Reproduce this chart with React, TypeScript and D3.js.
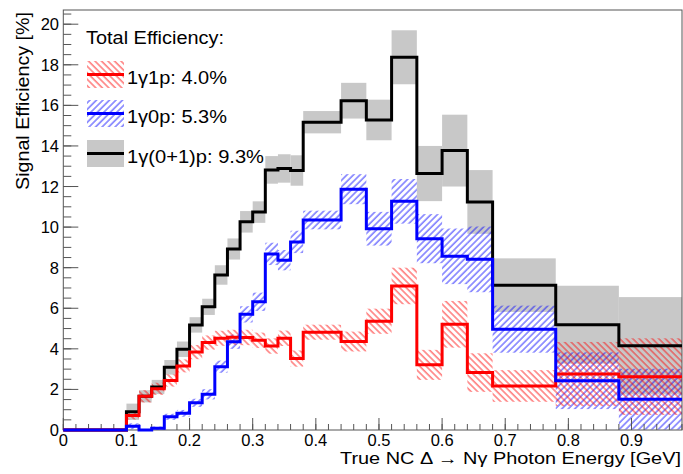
import React from "react";
import * as d3 from "d3";

// ---- data ----
const binEdges = [0, 0.02, 0.04, 0.06, 0.08, 0.1, 0.12, 0.14, 0.16, 0.18, 0.2, 0.22, 0.24, 0.26, 0.28, 0.3, 0.32, 0.34, 0.36, 0.38, 0.44, 0.48, 0.52, 0.56, 0.6, 0.64, 0.68, 0.78, 0.88, 0.98];

const totalEff = [0, 0, 0, 0, 0, 0.9, 1.66, 2.12, 3.09, 3.98, 5.18, 6.07, 7.64, 8.92, 10.26, 10.74, 12.82, 12.89, 12.79, 15.17, 16.23, 15.28, 18.37, 12.64, 13.77, 11.24, 7.14, 5.19, 4.15];
const totalErr = [0, 0, 0, 0, 0, 0.4, 0.3, 0.35, 0.36, 0.38, 0.38, 0.4, 0.48, 0.52, 0.53, 0.53, 0.68, 0.7, 0.75, 0.55, 0.88, 1.0, 1.33, 1.36, 1.77, 1.57, 1.32, 1.92, 2.4];

const oneP = [0, 0, 0, 0, 0, 0.72, 1.66, 2.03, 2.44, 3.16, 3.84, 4.31, 4.52, 4.57, 4.56, 4.42, 4.14, 4.52, 3.52, 4.82, 4.36, 5.36, 7.1, 3.21, 5.21, 2.83, 2.17, 2.76, 2.63];
const onePErr = [0, 0, 0, 0, 0, 0.2, 0.3, 0.3, 0.3, 0.32, 0.35, 0.35, 0.37, 0.37, 0.38, 0.38, 0.38, 0.38, 0.4, 0.37, 0.49, 0.62, 0.9, 0.74, 1.15, 0.95, 0.78, 1.58, 1.89];

const zeroP = [0, 0, 0, 0, 0, 0.18, 0, 0.09, 0.65, 0.82, 1.34, 1.76, 3.12, 4.35, 5.7, 6.32, 8.68, 8.37, 9.27, 10.35, 11.87, 9.92, 11.27, 9.43, 8.56, 8.41, 4.97, 2.43, 1.52];
const zeroPErr = [0, 0, 0, 0, 0, 0.15, 0.05, 0.08, 0.15, 0.17, 0.2, 0.25, 0.3, 0.35, 0.4, 0.45, 0.55, 0.5, 0.55, 0.46, 0.74, 0.83, 1.1, 1.21, 1.37, 1.62, 1.16, 1.4, 1.5];

const xMajorTicks = [0, 0.1, 0.2, 0.3, 0.4, 0.5, 0.6, 0.7, 0.8, 0.9];
const xTickLabels = ["0", "0.1", "0.2", "0.3", "0.4", "0.5", "0.6", "0.7", "0.8", "0.9"];
const yMajorTicks = [0, 2, 4, 6, 8, 10, 12, 14, 16, 18, 20];
const yTickLabels = ["0", "2", "4", "6", "8", "10", "12", "14", "16", "18", "20"];

const legendTitle = "Total Efficiency:";
const legendLabels = ["1γ1p: 4.0%", "1γ0p: 5.3%", "1γ(0+1)p: 9.3%"];
const xTitle = "True NC Δ → Nγ Photon Energy [GeV]";
const yTitle = "Signal Efficiency [%]";

// ---- layout ----
const W = 683;
const H = 474;
const L = 63.3;
const R = 682;
const T = 10;
const B = 430;
const FONT = "'Liberation Sans', Arial, Helvetica, sans-serif";

export default function App() {
  const x = d3.scaleLinear().domain([0, 0.98]).range([L, R]);
  const y = d3.scaleLinear().domain([0, 20.7]).range([B, T]);

  const bins = d3.range(binEdges.length - 1).map((i) => ({ x0: binEdges[i], x1: binEdges[i + 1], i }));

  const stepPath = (vals: number[]) => {
    const pts: [number, number][] = [];
    bins.forEach((b) => {
      pts.push([x(b.x0), y(vals[b.i])]);
      pts.push([x(b.x1), y(vals[b.i])]);
    });
    return d3.line()(pts) as string;
  };

  const bandRects = (vals: number[], errs: number[], fill: string, key: string) =>
    bins
      .filter((b) => errs[b.i] > 0)
      .map((b) => {
        const lo = Math.max(0, vals[b.i] - errs[b.i]);
        const hi = vals[b.i] + errs[b.i];
        return (
          <rect
            key={key + b.i}
            x={x(b.x0)}
            width={x(b.x1) - x(b.x0)}
            y={y(hi)}
            height={y(lo) - y(hi)}
            fill={fill}
          />
        );
      });

  const xMinor = d3.range(0, 0.9801, 0.02);
  const yMinor = d3.range(0, 20.51, 0.5);

  const legendRows = [
    { cy: 74.5, fill: "url(#hatchRed)", stroke: "#ff0000" },
    { cy: 113.5, fill: "url(#hatchBlue)", stroke: "#0000ff" },
    { cy: 153.5, fill: "#c8c8c8", stroke: "#000000" },
  ];
  const legendTextLen = [100, 100, 137];

  return (
    <svg
      width={W}
      height={H}
      style={{ position: "absolute", left: 0, top: 0, background: "#fff" }}
      fontFamily={FONT}
    >
      <defs>
        <clipPath id="plotClip">
          <rect x={L} y={T} width={R - L} height={B - T} />
        </clipPath>
        <clipPath id="lineClip">
          <rect x={L - 2} y={T} width={R - L + 2} height={B - T + 3} />
        </clipPath>
        <pattern id="hatchRed" patternUnits="userSpaceOnUse" width={4.6} height={10} patternTransform="rotate(-45)">
          <line x1={1} y1={0} x2={1} y2={10} stroke="#ff0000" strokeOpacity={0.5} strokeWidth={1.6} />
        </pattern>
        <pattern id="hatchBlue" patternUnits="userSpaceOnUse" width={4.6} height={10} patternTransform="rotate(45)">
          <line x1={1} y1={0} x2={1} y2={10} stroke="#0000ff" strokeOpacity={0.5} strokeWidth={1.6} />
        </pattern>
      </defs>

      <rect x={0} y={0} width={W} height={H} fill="#fff" />

      <g clipPath="url(#plotClip)">
        {bandRects(totalEff, totalErr, "#c8c8c8", "g")}
        {bandRects(zeroP, zeroPErr, "url(#hatchBlue)", "b")}
        {bandRects(oneP, onePErr, "url(#hatchRed)", "r")}
      </g>

      {/* frame */}
      <rect x={L} y={T} width={R - L} height={B - T} fill="none" stroke="#555" strokeWidth={1} />

      {/* x ticks */}
      {xMinor.map((v, i) => (
        <line key={"xm" + i} x1={x(v)} x2={x(v)} y1={B} y2={B - 6} stroke="#555" strokeWidth={1} />
      ))}
      {xMajorTicks.map((v, i) => (
        <g key={"xM" + i}>
          <line x1={x(v)} x2={x(v)} y1={B} y2={B - 12} stroke="#555" strokeWidth={1} />
          <text x={x(v)} y={446} textAnchor="middle" fontSize={16.5} fill="#000">
            {xTickLabels[i]}
          </text>
        </g>
      ))}

      {/* y ticks */}
      {yMinor.map((v, i) => (
        <line key={"ym" + i} x1={L} x2={L + 8} y1={y(v)} y2={y(v)} stroke="#555" strokeWidth={1} />
      ))}
      {yMajorTicks.map((v, i) => (
        <g key={"yM" + i}>
          <line x1={L} x2={L + 15} y1={y(v)} y2={y(v)} stroke="#555" strokeWidth={1} />
          <text x={59} y={y(v) + 6} textAnchor="end" fontSize={16.5} fill="#000">
            {yTickLabels[i]}
          </text>
        </g>
      ))}

      {/* histogram lines */}
      <g clipPath="url(#lineClip)">
        <path d={stepPath(totalEff)} fill="none" stroke="#000" strokeWidth={3} />
        <path d={stepPath(oneP)} fill="none" stroke="#ff0000" strokeWidth={3} />
        <path d={stepPath(zeroP)} fill="none" stroke="#0000ff" strokeWidth={3} />
      </g>

      {/* axis titles */}
      <text x={681} y={464} textAnchor="end" fontSize={16.5} fill="#000" textLength={341} lengthAdjust="spacingAndGlyphs">
        {xTitle}
      </text>
      <text
        transform="translate(28.5,12) rotate(-90)"
        textAnchor="end"
        fontSize={18}
        fill="#000"
        textLength={178}
        lengthAdjust="spacingAndGlyphs"
      >
        {yTitle}
      </text>

      {/* legend */}
      <text x={86} y={43.5} fontSize={17.5} fill="#000" textLength={138} lengthAdjust="spacingAndGlyphs">
        {legendTitle}
      </text>
      {legendRows.map((r, i) => (
        <g key={"lg" + i}>
          <rect x={87} y={r.cy - 13.5} width={37} height={27} fill={r.fill} />
          <line x1={87} x2={124} y1={r.cy} y2={r.cy} stroke={r.stroke} strokeWidth={3} />
          <text x={127} y={r.cy + 9} fontSize={17.5} fill="#000" textLength={legendTextLen[i]} lengthAdjust="spacingAndGlyphs">
            {legendLabels[i]}
          </text>
        </g>
      ))}
    </svg>
  );
}
